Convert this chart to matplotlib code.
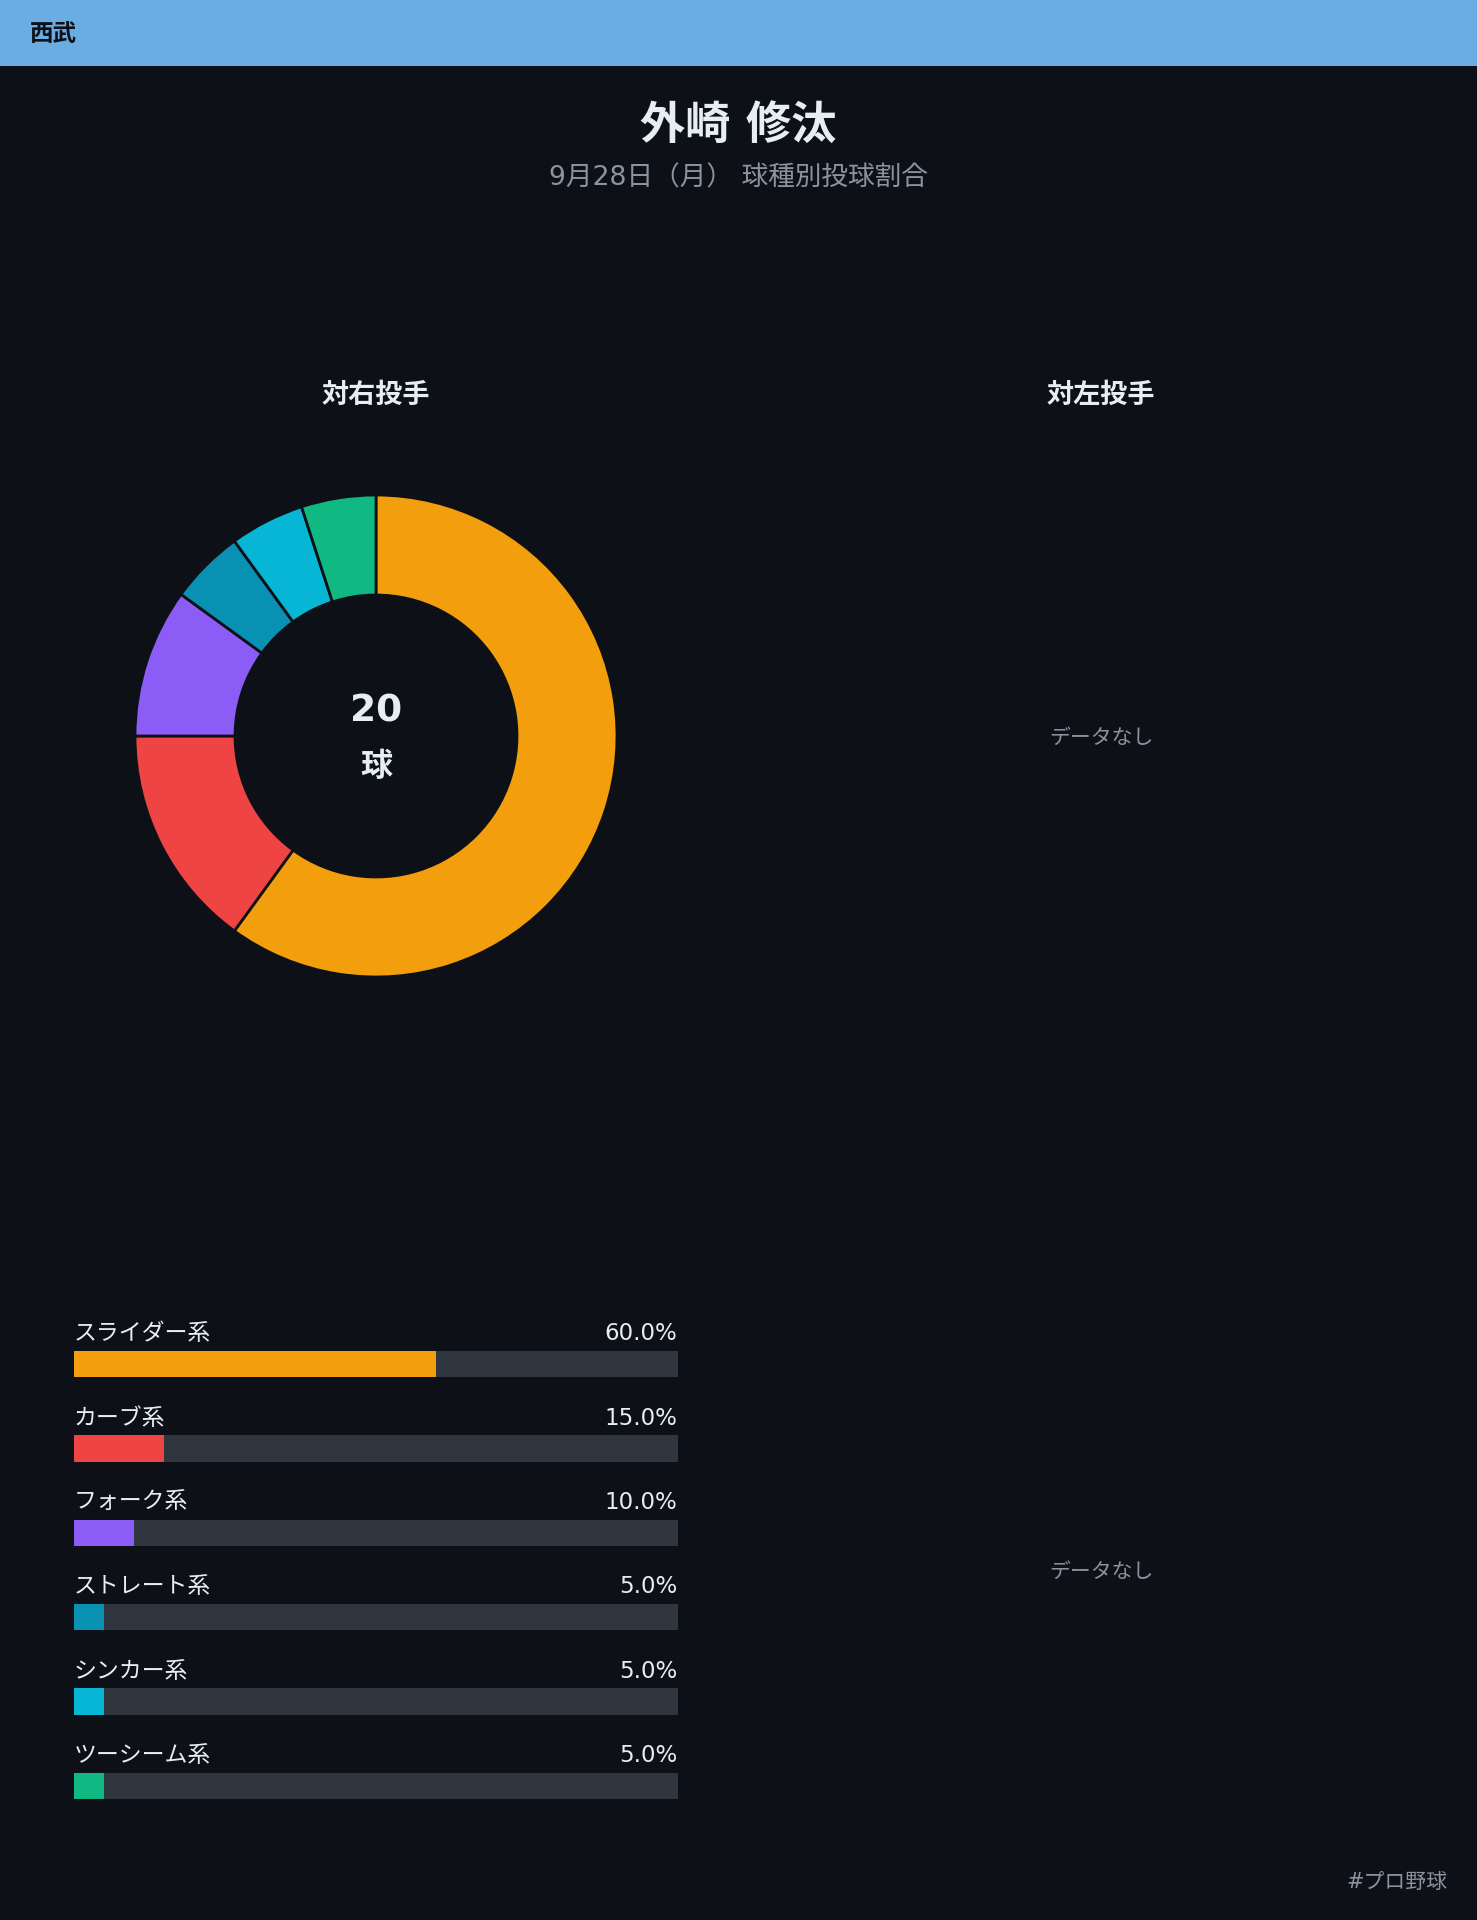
import matplotlib
matplotlib.use("Agg")
import matplotlib.pyplot as plt
from matplotlib.patches import Rectangle

plt.rcParams['font.family'] = ['DejaVu Sans', 'Noto Sans CJK JP']

# データ
team = "西武"
player = "外崎 修汰"
subtitle = "9月28日（月） 球種別投球割合"
pitch_types = ["スライダー系", "カーブ系", "フォーク系", "ストレート系", "シンカー系", "ツーシーム系"]
pct_vs_right = [60.0, 15.0, 10.0, 5.0, 5.0, 5.0]
total_vs_right = 20
colors = ["#f39e0c", "#ef4444", "#8b5cf6", "#0891b2", "#06b6d4", "#10b981"]

BG = "#0d1117"
TRACK = "#30363d"
TEXT = "#e6edf3"
GRAY = "#8b949e"

W, H = 1477, 1920
fig = plt.figure(figsize=(W / 100, H / 100), dpi=100, facecolor=BG)


def fx(x):
    return x / W


def fy(y):
    return 1 - y / H


# ヘッダー
fig.add_artist(Rectangle((0, fy(66)), 1, 66 / H, transform=fig.transFigure,
                         facecolor="#6aade3", edgecolor="none"))
fig.text(fx(30), fy(34), team, color="#0d1117", fontsize=17, fontweight="bold",
         ha="left", va="center")

# タイトル
fig.text(fx(738), fy(126), player, color=TEXT, fontsize=32.5, fontweight="bold",
         ha="center", va="center")
fig.text(fx(738), fy(178), subtitle, color=GRAY, fontsize=19.2, ha="center", va="center")

# 左右見出し
fig.text(fx(376), fy(396), "対右投手", color=TEXT, fontsize=19.5, fontweight="bold",
         ha="center", va="center")
fig.text(fx(1101), fy(396), "対左投手", color=TEXT, fontsize=19.5, fontweight="bold",
         ha="center", va="center")

# ドーナツ
cx, cy, r = 376, 736, 241
ax_pie = fig.add_axes([fx(cx - r), fy(cy + r), 2 * r / W, 2 * r / H])
ax_pie.pie(pct_vs_right, colors=colors, startangle=90, counterclock=False, radius=1,
           wedgeprops=dict(width=0.415, edgecolor=BG, linewidth=2))
ax_pie.set_xlim(-1, 1)
ax_pie.set_ylim(-1, 1)
ax_pie.axis("off")
ax_pie.text(0, 0.1, str(total_vs_right), color=TEXT, fontsize=27, fontweight="bold",
            ha="center", va="center")
ax_pie.text(0, -0.13, "球", color=TEXT, fontsize=23, fontweight="bold",
            ha="center", va="center")

fig.text(fx(1101), fy(738), "データなし", color=GRAY, fontsize=15, ha="center", va="center")
fig.text(fx(1101), fy(1572), "データなし", color=GRAY, fontsize=15, ha="center", va="center")

# 割合バー
step = 84.4
top_c = 1364
n = len(pitch_types)
ax_bar = fig.add_axes([fx(73.5), fy(top_c + (n - 0.5) * step), 604 / W, n * step / H])
ax_bar.set_facecolor(BG)
ypos = list(range(n))
ax_bar.barh(ypos, [100] * n, height=0.315, color=TRACK, left=0)
ax_bar.barh(ypos, pct_vs_right, height=0.315, color=colors, left=0)
ax_bar.set_xlim(0, 100)
ax_bar.set_ylim(n - 0.5, -0.5)
ax_bar.axis("off")
for i, (name, v) in enumerate(zip(pitch_types, pct_vs_right)):
    ax_bar.text(0, i - 0.36, name, color=TEXT, fontsize=16.5, ha="left", va="center")
    ax_bar.text(100, i - 0.36, f"{v:.1f}%", color=TEXT, fontsize=16.5, ha="right", va="center")

# フッター
fig.text(fx(1447), fy(1882), "#プロ野球", color=GRAY, fontsize=15, ha="right", va="center")

fig.savefig("out.png", dpi=100, facecolor=BG)
